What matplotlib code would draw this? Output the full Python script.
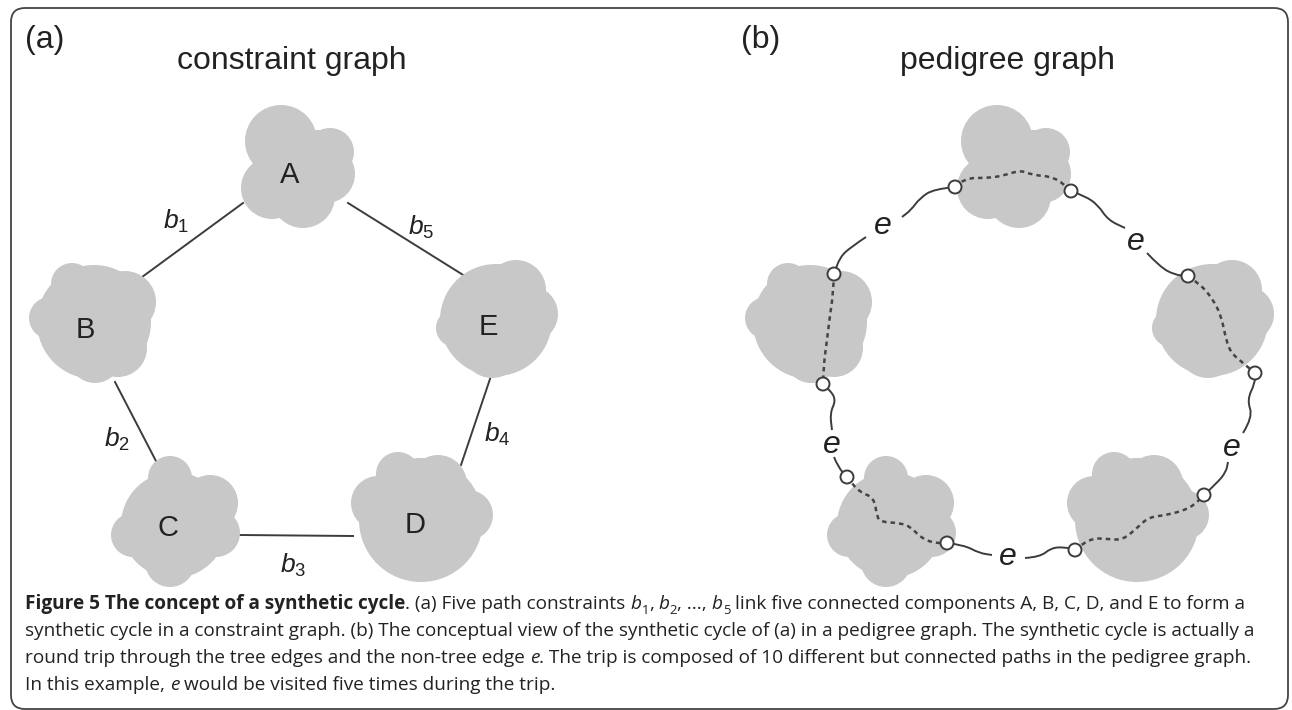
import numpy as np
import matplotlib
matplotlib.use('Agg')
import matplotlib.pyplot as plt
from matplotlib.patches import Circle, FancyBboxPatch, PathPatch
from matplotlib.path import Path

W, H = 1292, 710
SHIFT = 716          # panel (b) sits this far right of panel (a)

# connected components, drawn as clouds of overlapping lobes (x, y, r)
comp_names = ['A', 'B', 'C', 'D', 'E']
comp_label_xy = [(290, 175), (85, 330), (168, 528), (415, 525), (488, 327)]
comp_lobes = [
    [(281, 141, 36), (330, 152, 24), (326, 174, 29), (272, 188, 31), (303, 196, 32), (318, 160, 30)],
    [(94, 322, 57), (72, 284, 21), (125, 302, 31), (95, 357, 26), (50, 318, 21), (118, 348, 29)],
    [(174, 525, 53), (170, 478, 22), (210, 503, 28), (216, 533, 24), (133, 535, 22), (170, 562, 25)],
    [(421, 520, 62), (378, 503, 27), (438, 484, 29), (468, 515, 25), (398, 474, 22)],
    [(496, 320, 56), (516, 290, 30), (530, 314, 28), (455, 328, 19), (492, 348, 30)],
]

# panel (a): path constraints b1..b5
edges_a = [((243, 203), (138, 280)), ((115, 382), (157, 463)), ((240, 535), (353, 536)),
           ((491, 376), (461, 465)), ((348, 203), (468, 278))]
b_labels = ['1', '2', '3', '4', '5']
b_label_xy = [(176, 221), (117, 439), (293, 565), (497, 434), (421, 227)]

# panel (b): tree-edge end points
ports = [(955, 187), (1071, 191), (834, 274), (823, 384), (847, 477),
         (947, 543), (1075, 550), (1204, 495), (1188, 276), (1255, 373)]
# dotted paths inside components
dotted = [
    [(955, 187), (964, 178), (987, 178), (1002, 176), (1021, 170), (1032, 175), (1055, 177), (1071, 191)],
    [(834, 274), (833, 295), (830, 315), (827, 340), (824, 362), (823, 384)],
    [(847, 477), (858, 492), (874, 497), (877, 517), (881, 522), (900, 523), (911, 527), (921, 538), (934, 543), (947, 543)],
    [(1075, 550), (1089, 538), (1108, 539), (1123, 540), (1138, 527), (1149, 517), (1168, 515), (1191, 508), (1204, 495)],
    [(1188, 276), (1200, 284), (1212, 298), (1221, 315), (1225, 335), (1230, 352), (1243, 363), (1255, 373)],
]
# wavy non-tree edge pieces
wavy = [
    [(955, 187), (934, 189), (920, 198), (911, 210), (902, 217)],
    [(866, 237), (851, 247), (840, 257), (834, 274)],
    [(1071, 191), (1085, 196), (1098, 205), (1108, 220), (1125, 228)],
    [(1147, 253), (1160, 267), (1175, 275), (1188, 276)],
    [(823, 384), (830, 390), (836, 400), (830, 413), (832, 430)],
    [(834, 457), (838, 467), (847, 477)],
    [(947, 543), (964, 545), (979, 553), (992, 555)],
    [(1025, 558), (1040, 557), (1051, 548), (1064, 547), (1075, 550)],
    [(1204, 495), (1217, 483), (1226, 472), (1228, 462)],
    [(1243, 433), (1253, 417), (1247, 400), (1255, 383), (1255, 373)],
]
e_label_xy = [(883, 226), (1136, 242), (832, 445), (1008, 557), (1232, 448)]

caption = [
    [("Figure 5 The concept of a synthetic cycle", 'b'), (". (a) Five path constraints ", 'n'),
     ("b", 'i'), ("1", 's'), (", ", 'n'), ("b", 'i'), ("2", 's'), (", ..., ", 'n'), ("b", 'i'), ("5", 's'),
     (" link five connected components A, B, C, D, and E to form a", 'n')],
    [("synthetic cycle in a constraint graph. (b) The conceptual view of the synthetic cycle of (a) in a "
      "pedigree graph. The synthetic cycle is actually a", 'n')],
    [("round trip through the tree edges and the non-tree edge ", 'n'), ("e", 'i'),
     (". The trip is composed of 10 different but connected paths in the pedigree graph.", 'n')],
    [("In this example, ", 'n'), ("e", 'i'), (" would be visited five times during the trip.", 'n')],
]
caption_right = [1277, 1262, 1252, None]   # where each line ends in the original

GREY = '#c8c8c8'
INK = '#222222'
LINE = '#3c3c3c'
SANS = ['Liberation Sans', 'DejaVu Sans']
CAP_FONT = ['Open Sans', 'DejaVu Sans']

plt.rcParams['mathtext.fontset'] = 'custom'
plt.rcParams['mathtext.rm'] = 'Liberation Sans'
plt.rcParams['mathtext.it'] = 'Liberation Sans:italic'

fig = plt.figure(figsize=(W / 100, H / 100), dpi=100)
ax = fig.add_axes([0, 0, 1, 1])
ax.set_xlim(0, W)
ax.set_ylim(H, 0)
ax.axis('off')


def smooth_path(pts):
    pts = np.asarray(pts, float)
    verts = [pts[0]]
    codes = [Path.MOVETO]
    for i in range(1, len(pts) - 1):
        mid = (pts[i] + pts[i + 1]) / 2
        verts += [pts[i], mid]
        codes += [Path.CURVE3, Path.CURVE3]
    verts.append(pts[-1])
    codes.append(Path.LINETO)
    return Path(verts, codes)


# outer frame
ax.add_patch(FancyBboxPatch((11, 8), 1277, 701, boxstyle='round,pad=0,rounding_size=14',
                            fill=False, ec='#444444', lw=1.3, zorder=0))

for off in (0, SHIFT):
    for lobes in comp_lobes:
        for x, y, r in lobes:
            ax.add_patch(Circle((x + off, y), r, fc=GREY, ec='none', zorder=2))

# panel (a)
for (p0, p1) in edges_a:
    ax.plot([p0[0], p1[0]], [p0[1], p1[1]], color=LINE, lw=1.4, zorder=1)
for name, (x, y) in zip(comp_names, comp_label_xy):
    ax.text(x, y, name, fontsize=21, family=SANS, color=INK, ha='center', va='center', zorder=3)
for n, (x, y) in zip(b_labels, b_label_xy):
    ax.text(x, y, r'$b_{\mathrm{%s}}$' % n, fontsize=19, color=INK, ha='center', va='center', zorder=3)

ax.text(45, 40, '(a)', fontsize=23, family=SANS, color=INK, ha='center', va='center')
ax.text(292, 61, 'constraint graph', fontsize=23, family=SANS, color=INK, ha='center', va='center')
ax.text(45 + SHIFT, 40, '(b)', fontsize=23, family=SANS, color=INK, ha='center', va='center')
ax.text(292 + SHIFT, 61, 'pedigree graph', fontsize=23, family=SANS, color=INK, ha='center', va='center')

# panel (b)
for pts in dotted:
    ax.add_patch(PathPatch(smooth_path(pts), fill=False, ec='#444444', lw=1.8,
                           ls=(0, (1.8, 1.6)), zorder=3))
for pts in wavy:
    ax.add_patch(PathPatch(smooth_path(pts), fill=False, ec=LINE, lw=1.4, zorder=3))
for x, y in ports:
    ax.add_patch(Circle((x, y), 6.5, fc='white', ec=LINE, lw=1.4, zorder=4))
for x, y in e_label_xy:
    ax.text(x, y, 'e', fontsize=23, family=SANS, style='italic', color=INK,
            ha='center', va='center', zorder=4)

# caption
renderer = fig.canvas.get_renderer()


def text_width(s, size, **kw):
    t = ax.text(0, 0, s, fontsize=size, family=CAP_FONT, **kw)
    w = t.get_window_extent(renderer).width
    t.remove()
    return w


def draw_line(x0, y, runs, size, draw=True):
    space = text_width('x x', size) - text_width('xx', size)
    x = x0
    for s, kind in runs:
        kw = {}
        fs, yy = size, y
        if kind == 'b':
            kw['weight'] = 'bold'
        elif kind == 'i':
            kw['style'] = 'italic'
        elif kind == 's':
            fs, yy = size * 0.68, y + size * 0.35
        lead = len(s) - len(s.lstrip(' '))
        trail = len(s) - len(s.rstrip(' '))
        core = s.strip(' ')
        x += lead * space
        if draw:
            ax.text(x, yy, core, fontsize=fs, family=CAP_FONT, color='#222222',
                    ha='left', va='baseline', **kw)
        x += text_width(core, fs, **kw)
        x += trail * space
    return x


X0 = 25
sizes = []
for runs, r in zip(caption, caption_right):
    if r is not None:
        end = draw_line(X0, 0, runs, 12, draw=False)
        sizes.append(12 * (r - X0) / (end - X0))
cap_size = min(sizes)
for i, runs in enumerate(caption):
    draw_line(X0, 609 + 27 * i, runs, cap_size)

fig.savefig('out.png', dpi=100)
